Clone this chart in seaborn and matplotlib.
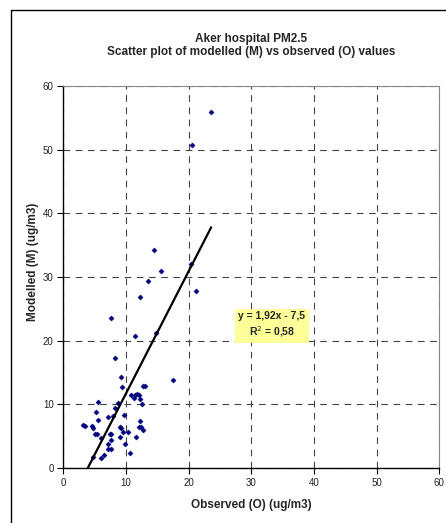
import matplotlib
matplotlib.use("Agg")
import matplotlib.pyplot as plt
import seaborn as sns
import pandas as pd
import numpy as np
from matplotlib.lines import Line2D

observed = [23.6, 20.5, 14.5, 15.6, 20.3, 13.5, 21.2, 12.2, 7.6, 11.5, 14.8,
            8.2, 9.25, 9.4, 12.7, 13.1, 17.5, 10.8, 11.5, 11.8, 12.0, 11.3,
            12.3, 12.6, 5.5, 8.8, 8.25, 5.2, 9.7, 7.2, 8.0, 5.5, 12.2,
            3.1, 3.4, 4.6, 4.7, 9.0, 9.25, 12.1, 12.4, 12.7, 5.0, 5.4,
            7.5, 7.6, 9.6, 10.4, 6.0, 9.1, 11.6, 7.6, 9.9, 7.2, 7.2, 7.6,
            10.6, 6.5, 6.0, 4.7]
modelled = [55.9, 50.7, 34.2, 30.9, 32.0, 29.4, 27.8, 26.8, 23.5, 20.7, 21.2,
            17.3, 14.3, 12.8, 12.9, 12.9, 13.8, 11.5, 11.4, 11.7, 11.4, 11.0,
            10.8, 10.1, 10.3, 10.2, 9.5, 8.8, 8.3, 8.0, 8.1, 7.5, 7.4,
            6.8, 6.6, 6.6, 6.3, 6.5, 6.3, 6.4, 6.5, 6.0, 5.4, 5.4,
            5.4, 5.4, 5.6, 5.6, 4.7, 4.8, 4.9, 4.4, 3.7, 3.8, 3.0, 3.0,
            2.3, 2.1, 1.6, 1.8]
slope = 1.92
intercept = -7.5
r2 = 0.58
ticks = [0, 10, 20, 30, 40, 50, 60]

df = pd.DataFrame({"Observed": observed, "Modelled": modelled})

sns.set_style("white")
plt.rcParams["font.family"] = ["Liberation Sans", "DejaVu Sans"]

fig = plt.figure(figsize=(4.46, 5.23), dpi=100)
ax = fig.add_axes([63.3 / 446, 1 - 468 / 523, (439.3 - 63.3) / 446, (468 - 86) / 523])

sns.scatterplot(data=df, x="Observed", y="Modelled", ax=ax, marker="D",
                s=7, color="#000080", edgecolor="#000080", linewidth=0.3, zorder=3)

xs = np.array([min(observed), max(observed)])
line_df = pd.DataFrame({"x": xs, "y": slope * xs + intercept})
sns.lineplot(data=line_df, x="x", y="y", ax=ax, color="black", linewidth=1.6, zorder=4)

ax.set_xlim(0, 60)
ax.set_ylim(0, 60)
ax.set_xticks(ticks)
ax.set_yticks(ticks)
ax.set_xticklabels([str(t) for t in ticks], fontsize=7, color="#222222")
ax.set_yticklabels([str(t) for t in ticks], fontsize=7, color="#222222")
ax.tick_params(axis="both", direction="out", length=4, width=0.8, color="black", pad=3,
               bottom=True, left=True)
ax.grid(True, color="#444444", linestyle=(0, (6, 5)), linewidth=0.8)
ax.set_axisbelow(True)

for side in ["left", "bottom"]:
    ax.spines[side].set_color("black")
    ax.spines[side].set_linewidth(1.0)
for side in ["top", "right"]:
    ax.spines[side].set_color("#888888")
    ax.spines[side].set_linewidth(0.8)

ax.set_xlabel("")
ax.set_ylabel("")
fig.text(251.5 / 446, 1 - 505 / 523, "Observed (O) (ug/m3)", ha="center", va="center",
         fontsize=8.5, fontweight="bold")
fig.text(33 / 446, 1 - 262 / 523, "Modelled (M) (ug/m3)", ha="center", va="center",
         rotation=90, fontsize=8.5, fontweight="bold")
fig.text(251 / 446, 1 - 39 / 523, "Aker hospital PM2.5", ha="center", va="center",
         fontsize=8.5, fontweight="bold")
fig.text(251 / 446, 1 - 52 / 523, "Scatter plot of modelled (M) vs observed (O) values",
         ha="center", va="center", fontsize=8.5, fontweight="bold")

eq = "y = {:.2f}x - {:.1f}".format(slope, -intercept).replace(".", ",")
r2txt = "R$^2$ = {:.2f}".format(r2).replace(".", ",")
ax.text(33.3, 22.4, eq + "\n" + r2txt, ha="center", va="center", fontsize=7.5,
        fontweight="bold", linespacing=1.3, zorder=5,
        bbox=dict(boxstyle="square,pad=0.35", facecolor="#FFFF99", edgecolor="none"))

fig.add_artist(Line2D([11 / 446, 11 / 446], [0, 1 - 10 / 523], transform=fig.transFigure,
                      color="black", linewidth=1.0))
fig.add_artist(Line2D([11 / 446, 1], [1 - 10 / 523, 1 - 10 / 523], transform=fig.transFigure,
                      color="black", linewidth=1.0))

fig.savefig("out.png", dpi=100)
